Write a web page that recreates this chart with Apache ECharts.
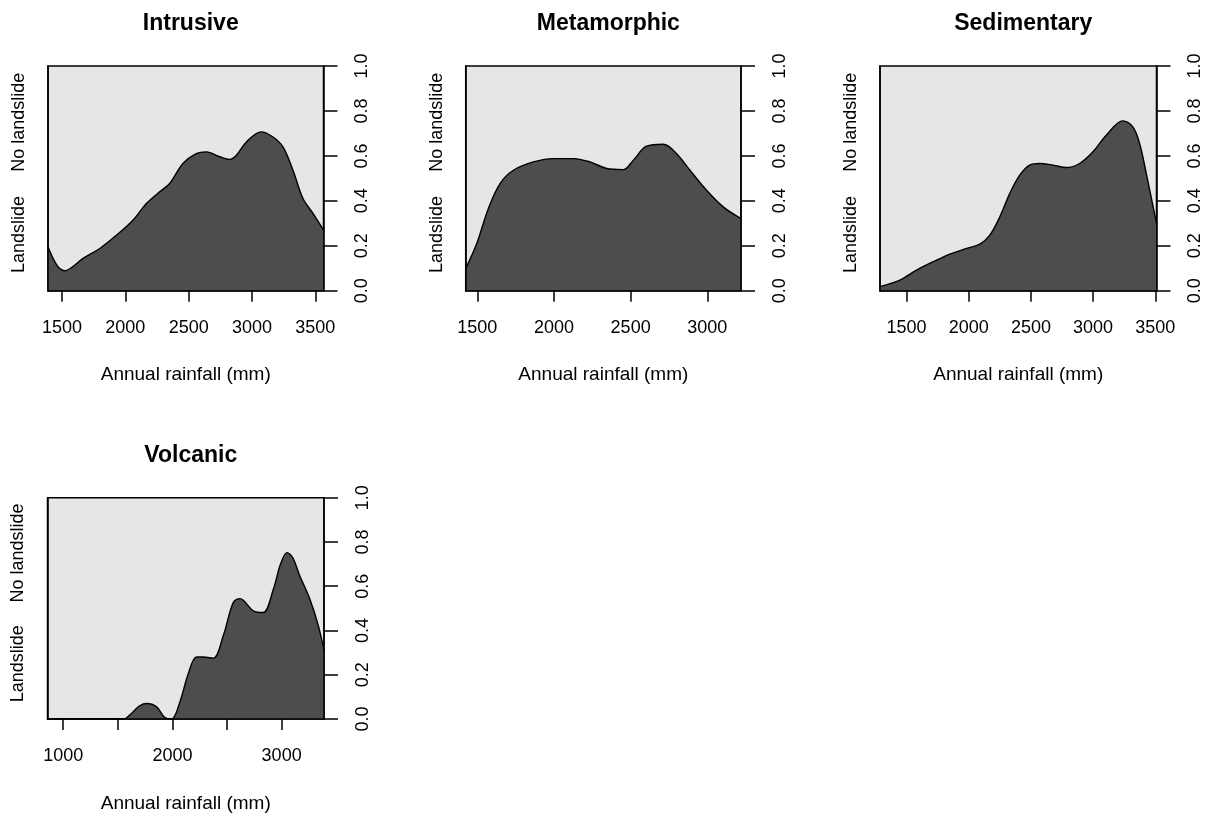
<!DOCTYPE html>
<html>
<head>
<meta charset="utf-8">
<script src="https://cdn.jsdelivr.net/npm/echarts@6/dist/echarts.min.js"></script>
<style>
  html, body { margin: 0; padding: 0; background: #fff; }
  #chart { width: 1205px; height: 814px; }
</style>
</head>
<body>
<div id="chart"></div>
<script>
// Conditional density of landslide occurrence against annual rainfall, by rock type.
const panelTitles = ['Intrusive', 'Metamorphic', 'Sedimentary', 'Volcanic'];
const xAxisTitle = 'Annual rainfall (mm)';
const responseLevels = ['Landslide', 'No landslide'];
const responseLevelPos = [0.25, 0.75];

// Intrusive
const intrusiveRange = [1389, 3565];
const intrusiveTicks = [1500, 2000, 2500, 3000, 3500];
const intrusiveRain = [1389, 1429, 1468, 1521, 1580, 1666, 1798, 1929, 2060, 2166, 2271, 2350, 2455, 2561, 2640, 2745, 2824, 2877, 2956, 3074, 3166, 3245, 3324, 3403, 3482, 3565];
const intrusiveProb = [0.196, 0.144, 0.107, 0.089, 0.105, 0.144, 0.188, 0.247, 0.314, 0.388, 0.440, 0.477, 0.566, 0.610, 0.618, 0.596, 0.584, 0.603, 0.662, 0.707, 0.684, 0.640, 0.536, 0.410, 0.344, 0.270];

// Metamorphic
const metamorphicRange = [1424, 3220];
const metamorphicTicks = [1500, 2000, 2500, 3000];
const metamorphicRain = [1424, 1496, 1572, 1648, 1735, 1865, 1996, 2126, 2235, 2344, 2452, 2517, 2604, 2713, 2800, 2887, 2995, 3104, 3220];
const metamorphicProb = [0.099, 0.210, 0.366, 0.477, 0.536, 0.573, 0.588, 0.588, 0.573, 0.544, 0.539, 0.580, 0.643, 0.652, 0.610, 0.536, 0.447, 0.373, 0.321];

// Sedimentary
const sedimentaryRange = [1286, 3510];
const sedimentaryTicks = [1500, 2000, 2500, 3000, 3500];
const sedimentaryRain = [1286, 1446, 1580, 1714, 1848, 1982, 2089, 2169, 2250, 2330, 2410, 2490, 2571, 2678, 2785, 2892, 2999, 3106, 3240, 3320, 3374, 3428, 3510];
const sedimentaryProb = [0.018, 0.047, 0.092, 0.129, 0.163, 0.188, 0.207, 0.247, 0.329, 0.433, 0.514, 0.559, 0.566, 0.559, 0.548, 0.566, 0.618, 0.692, 0.756, 0.729, 0.655, 0.521, 0.300];

// Volcanic
const volcanicRange = [856, 3388];
const volcanicTicks = [1000, 1500, 2000, 2500, 3000];
const volcanicLabels = [1000, 2000, 3000];
const volcanicRain = [856, 1200, 1550, 1641, 1700, 1763, 1855, 1931, 1992, 2069, 2145, 2221, 2282, 2374, 2466, 2557, 2618, 2740, 2832, 2924, 2990, 3050, 3100, 3167, 3259, 3336, 3388];
const volcanicProb = [0, 0, 0, 0.033, 0.060, 0.070, 0.055, 0.006, 0, 0.078, 0.205, 0.280, 0.280, 0.275, 0.377, 0.526, 0.544, 0.489, 0.481, 0.586, 0.700, 0.752, 0.730, 0.646, 0.541, 0.422, 0.310];

const probTickFormat = v => v.toFixed(1);
const rainTickFormat = v => String(Math.round(v));

const panels = [
  { title: panelTitles[0], range: intrusiveRange, ticks: intrusiveTicks, labels: intrusiveTicks, rain: intrusiveRain, prob: intrusiveProb },
  { title: panelTitles[1], range: metamorphicRange, ticks: metamorphicTicks, labels: metamorphicTicks, rain: metamorphicRain, prob: metamorphicProb },
  { title: panelTitles[2], range: sedimentaryRange, ticks: sedimentaryTicks, labels: sedimentaryTicks, rain: sedimentaryRain, prob: sedimentaryProb },
  { title: panelTitles[3], range: volcanicRange, ticks: volcanicTicks, labels: volcanicLabels, rain: volcanicRain, prob: volcanicProb }
];

// Plot boxes (pixels)
const boxes = [
  { left: 48,    top: 66,    width: 275.5, height: 224.7 },
  { left: 465.7, top: 66,    width: 275.3, height: 224.7 },
  { left: 880,   top: 66,    width: 276.5, height: 224.7 },
  { left: 47.5,  top: 497.7, width: 276.5, height: 223 }
];

const FONT = "'Liberation Sans', Arial, sans-serif";
const INK = '#000';
const RULE = 1.5;

const option = {
  backgroundColor: '#fff',
  animation: false,
  title: [],
  grid: [],
  xAxis: [],
  yAxis: [],
  series: []
};

panels.forEach((p, i) => {
  const b = boxes[i];
  option.title.push({
    text: p.title,
    left: b.left + b.width / 2,
    top: b.top - 59,
    textAlign: 'center',
    textStyle: { fontFamily: FONT, fontSize: 23, fontWeight: 'bold', color: INK }
  });
  option.grid.push({
    left: b.left, top: b.top, width: b.width, height: b.height,
    show: true, backgroundColor: '#e6e6e6', borderColor: INK, borderWidth: RULE
  });
  option.xAxis.push({
    type: 'value', gridIndex: i, position: 'bottom', z: 3,
    min: p.range[0], max: p.range[1],
    name: xAxisTitle, nameLocation: 'middle', nameGap: 75,
    nameTextStyle: { fontFamily: FONT, fontSize: 19, color: INK },
    axisLine: { show: true, onZero: false, lineStyle: { color: INK, width: RULE } },
    axisTick: { show: true, inside: false, length: 11, customValues: p.ticks, lineStyle: { color: INK, width: RULE } },
    axisLabel: { show: true, margin: 28, customValues: p.labels, formatter: rainTickFormat, fontFamily: FONT, fontSize: 18, color: INK },
    splitLine: { show: false }
  });
  // left: response levels
  option.yAxis.push({
    type: 'value', gridIndex: i, position: 'left', z: 3,
    min: 0, max: 1,
    axisLine: { show: true, onZero: false, lineStyle: { color: INK, width: RULE } },
    axisTick: { show: false },
    axisLabel: {
      show: true, rotate: 90, margin: 20, customValues: responseLevelPos,
      formatter: v => {
        const k = responseLevelPos.findIndex(q => Math.abs(q - v) < 1e-6);
        return k >= 0 ? responseLevels[k] : '';
      },
      fontFamily: FONT, fontSize: 18, color: INK
    },
    splitLine: { show: false }
  });
  // right: conditional probability
  option.yAxis.push({
    type: 'value', gridIndex: i, position: 'right', z: 3,
    min: 0, max: 1, interval: 0.2,
    axisLine: { show: true, onZero: false, lineStyle: { color: INK, width: RULE } },
    axisTick: { show: true, length: 14, lineStyle: { color: INK, width: RULE } },
    axisLabel: { show: true, rotate: 90, margin: 30, formatter: probTickFormat, fontFamily: FONT, fontSize: 18, color: INK },
    splitLine: { show: false }
  });
  option.series.push({
    type: 'line', xAxisIndex: i, yAxisIndex: 2 * i + 1,
    data: p.rain.map((x, k) => [x, p.prob[k]]),
    showSymbol: false, smooth: 0.35, silent: true, z: 2,
    lineStyle: { color: INK, width: 1.4 },
    areaStyle: { color: '#4d4d4d', opacity: 1, origin: 'start' }
  });
});

const chart = echarts.init(document.getElementById('chart'), null, { renderer: 'canvas' });
chart.setOption(option);
</script>
</body>
</html>
